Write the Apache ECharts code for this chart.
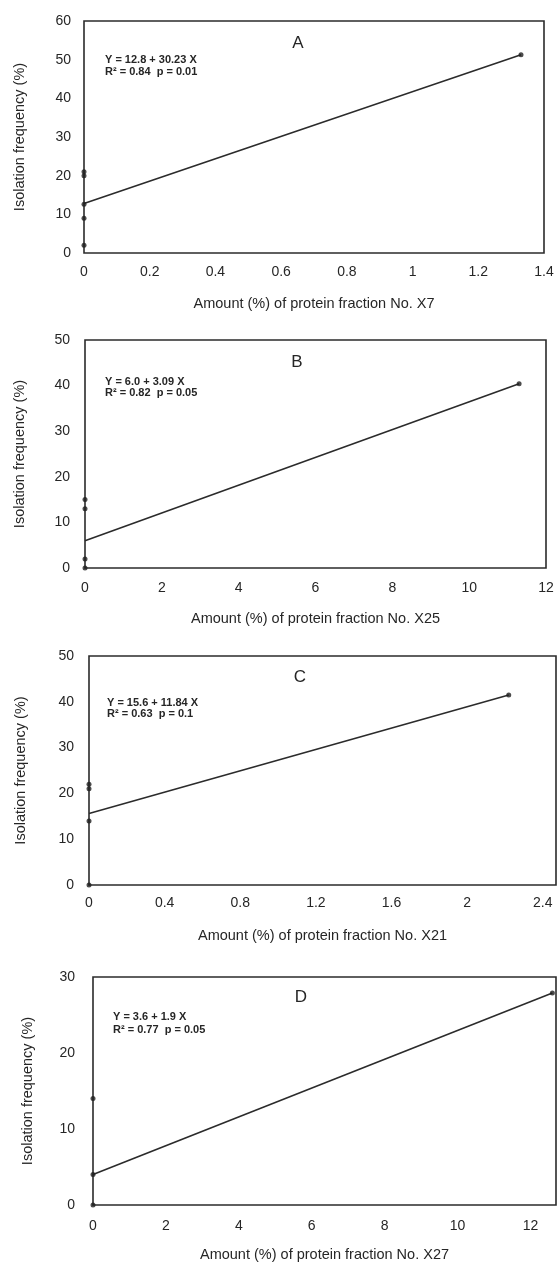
<!DOCTYPE html>
<html><head><meta charset="utf-8">
<script src="https://cdn.jsdelivr.net/npm/echarts@6/dist/echarts.min.js"></script>
<style>html,body{margin:0;padding:0;background:#fff}#c{width:557px;height:1263px}</style>
</head><body><div id="c"></div>
<script>
// ---- data ----
const panelLetters = ['A', 'B', 'C', 'D'];
const xTitles = [
  'Amount (%) of protein fraction No. X7',
  'Amount (%) of protein fraction No. X25',
  'Amount (%) of protein fraction No. X21',
  'Amount (%) of protein fraction No. X27'
];
const yTitle = 'Isolation frequency (%)';
const equations = ['Y = 12.8 + 30.23 X', 'Y = 6.0 + 3.09 X', 'Y = 15.6 + 11.84 X', 'Y = 3.6 + 1.9 X'];
const statsText = ['R\u00B2 = 0.84  p = 0.01', 'R\u00B2 = 0.82  p = 0.05', 'R\u00B2 = 0.63  p = 0.1', 'R\u00B2 = 0.77  p = 0.05'];

const pointsA_x = [0, 0, 0, 0, 0, 1.33];
const pointsA_y = [2, 9, 12.6, 20, 21, 51.3];
const pointsB_x = [0, 0, 0, 0, 11.3];
const pointsB_y = [0, 2, 13, 15, 40.4];
const pointsC_x = [0, 0, 0, 0, 2.22];
const pointsC_y = [0, 14, 21, 22, 41.5];
const pointsD_x = [0, 0, 0, 12.6];
const pointsD_y = [0, 4, 14, 27.9];

const fitA_x = [0, 1.33];  const fitA_y = [12.8, 51.3];
const fitB_x = [0, 11.3];  const fitB_y = [6.0, 40.4];
const fitC_x = [0, 2.22];  const fitC_y = [15.6, 41.5];
const fitD_x = [0, 12.6];  const fitD_y = [4.0, 27.9];

const xMax = [1.4, 12, 2.47, 12.7];
const xInterval = [0.2, 2, 0.4, 2];
const yMax = [60, 50, 50, 30];
const yInterval = [10, 10, 10, 10];

// ---- layout / style ----
const grids = [
  {left: 84, top: 21, width: 460, height: 232},
  {left: 85, top: 340, width: 461, height: 228},
  {left: 89, top: 656, width: 467, height: 229},
  {left: 93, top: 977, width: 463, height: 229}
];
const yLabelMargin = [13, 15, 15, 18];
const xLabelMargin = [12, 13, 11, 14];
const yNameGap = [57, 58, 61, 58];
const xNameGap = [43, 43, 43, 42];
const letterPos = [[298, 43], [297, 362], [300, 677], [301, 997]];
const eqPos = [[105, 60, 72], [105, 382, 393], [107, 703, 714], [113, 1017, 1030]];

const FONT = '"Liberation Sans", Arial, sans-serif';
const INK = '#262626';

const pts = [[pointsA_x, pointsA_y], [pointsB_x, pointsB_y], [pointsC_x, pointsC_y], [pointsD_x, pointsD_y]];
const fits = [[fitA_x, fitA_y], [fitB_x, fitB_y], [fitC_x, fitC_y], [fitD_x, fitD_y]];
const zip = (xs, ys) => xs.map((x, i) => [x, ys[i]]);

const option = {
  backgroundColor: '#fff',
  animation: false,
  textStyle: {fontFamily: FONT},
  grid: grids.map(g => Object.assign({show: true, borderColor: '#2b2b2b', borderWidth: 1.6, backgroundColor: '#fff'}, g)),
  xAxis: grids.map((g, i) => ({
    type: 'value', gridIndex: i, min: 0, max: xMax[i], interval: xInterval[i],
    name: xTitles[i], nameLocation: 'middle', nameGap: xNameGap[i],
    nameTextStyle: {fontSize: 14.5, color: INK, fontFamily: FONT},
    axisLine: {show: false}, axisTick: {show: false}, splitLine: {show: false},
    axisLabel: {fontSize: 14, color: INK, margin: xLabelMargin[i], fontFamily: FONT,
      showMaxLabel: (i < 2)}
  })),
  yAxis: grids.map((g, i) => ({
    type: 'value', gridIndex: i, min: 0, max: yMax[i], interval: yInterval[i],
    name: yTitle, nameLocation: 'middle', nameGap: yNameGap[i], nameRotate: 90,
    nameTextStyle: {fontSize: 14.5, color: INK, fontFamily: FONT},
    axisLine: {show: false}, axisTick: {show: false}, splitLine: {show: false},
    axisLabel: {fontSize: 14, color: INK, margin: yLabelMargin[i], fontFamily: FONT}
  })),
  series: [].concat(
    fits.map((f, i) => ({
      type: 'line', xAxisIndex: i, yAxisIndex: i, data: zip(f[0], f[1]),
      showSymbol: false, lineStyle: {color: '#2b2b2b', width: 1.6}, z: 3
    })),
    pts.map((p, i) => ({
      type: 'scatter', xAxisIndex: i, yAxisIndex: i, data: zip(p[0], p[1]),
      symbolSize: 5, itemStyle: {color: '#1e1e1e'}, clip: false, z: 4
    }))
  ),
  graphic: [].concat(
    panelLetters.map((t, i) => ({
      type: 'text', x: letterPos[i][0], y: letterPos[i][1],
      style: {text: t, fontSize: 17, fill: INK, fontFamily: FONT, align: 'center', verticalAlign: 'middle'}
    })),
    equations.map((t, i) => ({
      type: 'text', x: eqPos[i][0], y: eqPos[i][1],
      style: {text: t, fontSize: 11, fontWeight: 'bold', fill: INK, fontFamily: FONT, align: 'left', verticalAlign: 'middle'}
    })),
    statsText.map((t, i) => ({
      type: 'text', x: eqPos[i][0], y: eqPos[i][2],
      style: {text: t, fontSize: 11, fontWeight: 'bold', fill: INK, fontFamily: FONT, align: 'left', verticalAlign: 'middle'}
    }))
  )
};

const chart = echarts.init(document.getElementById('c'), null, {renderer: 'canvas'});
chart.setOption(option);
</script>
</body></html>
